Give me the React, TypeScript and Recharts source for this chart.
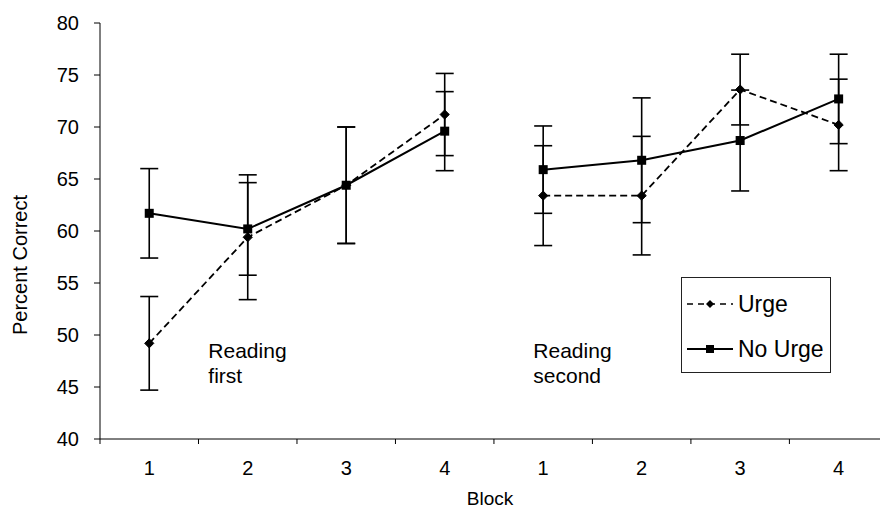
import React from 'react';
import { LineChart, Line, XAxis, YAxis, ErrorBar, Legend, ReferenceDot, Label } from 'recharts';

// ---- data ----
const blockPositions = [1, 2, 3, 4, 5, 6, 7, 8];
const blockLabels = ['1', '2', '3', '4', '1', '2', '3', '4'];
const urgeMeans = [49.2, 59.4, 64.4, 71.2, 63.4, 63.4, 73.6, 70.2];
const urgeErrors = [4.5, 6.0, 5.6, 3.95, 4.8, 5.7, 3.4, 4.4];
const noUrgeMeans = [61.7, 60.2, 64.4, 69.6, 65.9, 66.8, 68.7, 72.7];
const noUrgeErrors = [4.3, 4.45, 5.6, 3.8, 4.2, 6.0, 4.85, 4.3];
const yTicks = [40, 45, 50, 55, 60, 65, 70, 75, 80];
const seriesNames = ['Urge', 'No Urge'];
const groupLabels = [['Reading', 'first'], ['Reading', 'second']];
const groupRanges = [[0, 4], [4, 8]];

const xTickMarks = [0.5, 1.5, 2.5, 3.5, 4.5, 5.5, 6.5, 7.5];
const X_DOMAIN: [number, number] = [0.5, 8.42];
const annotationAnchors = [{ x: 1.6, y: 47.75 }, { x: 4.9, y: 47.75 }];

const FONT = '"Liberation Sans", Arial, Helvetica, sans-serif';

const build = (means: number[], errs: number[], range: number[]) =>
  blockPositions.slice(range[0], range[1]).map((x, i) => ({
    x,
    mean: means[range[0] + i],
    err: errs[range[0] + i],
  }));

const urgeGroups = groupRanges.map((r) => build(urgeMeans, urgeErrors, r));
const noUrgeGroups = groupRanges.map((r) => build(noUrgeMeans, noUrgeErrors, r));

const DiamondDot = (props: any) => {
  const { cx, cy, index } = props;
  if (cx == null || cy == null) return <g key={`d${index}`} />;
  const s = 4.6;
  return (
    <polygon
      key={`d${index}-${cx}`}
      points={`${cx},${cy - s} ${cx + s},${cy} ${cx},${cy + s} ${cx - s},${cy}`}
      fill="#000"
      stroke="#000"
    />
  );
};

const SquareDot = (props: any) => {
  const { cx, cy, index } = props;
  if (cx == null || cy == null) return <g key={`s${index}`} />;
  const s = 4.5;
  return <rect key={`s${index}-${cx}`} x={cx - s} y={cy - s} width={2 * s} height={2 * s} fill="#000" />;
};

const LegendBox = () => (
  <div
    style={{
      width: 150,
      height: 96,
      border: '1.5px solid #222',
      boxSizing: 'border-box',
      background: '#fff',
      fontFamily: FONT,
      position: 'relative',
    }}
  >
    {seriesNames.map((name, i) => (
      <div
        key={name}
        style={{
          position: 'absolute',
          left: 3,
          top: i === 0 ? 12 : 57,
          height: 28,
          display: 'flex',
          alignItems: 'center',
        }}
      >
        <svg width={50} height={28}>
          {i === 0 ? (
            <>
              <line x1={2} y1={14} x2={48} y2={14} stroke="#000" strokeWidth={1.6} strokeDasharray="6 5" />
              <polygon points="25,10 29,14 25,18 21,14" fill="#000" />
            </>
          ) : (
            <>
              <line x1={2} y1={14} x2={48} y2={14} stroke="#000" strokeWidth={2} />
              <rect x={21} y={10} width={8} height={8} fill="#000" />
            </>
          )}
        </svg>
        <span style={{ fontSize: 23, color: '#000', marginLeft: 3, lineHeight: '28px' }}>{name}</span>
      </div>
    ))}
  </div>
);

const makeAnnotation = (lines: string[]) => (props: any) => {
  const { cx, cy } = props;
  return (
    <text x={cx} y={cy} fontSize={21} fontFamily={FONT} fill="#000">
      {lines.map((l, i) => (
        <tspan key={i} x={cx} dy={i === 0 ? 0 : 25}>
          {l}
        </tspan>
      ))}
    </text>
  );
};

const YLabel = (props: any) => {
  const { viewBox } = props;
  const cx = 20;
  const cy = viewBox.y + viewBox.height / 2 + 34;
  return (
    <text
      x={cx}
      y={cy}
      transform={`rotate(-90, ${cx}, ${cy})`}
      textAnchor="middle"
      dominantBaseline="central"
      fontSize={20}
      fontFamily={FONT}
      fill="#000"
    >
      Percent Correct
    </text>
  );
};

export default function App() {
  return (
    <div style={{ position: 'absolute', left: 0, top: 0, width: 880, height: 510, background: '#fff' }}>
      <LineChart
        width={880}
        height={510}
        margin={{ top: 23, right: 0, bottom: 0, left: 0 }}
        style={{ fontFamily: FONT }}
      >
        <XAxis
          xAxisId="a_ticks"
          type="number"
          dataKey="x"
          domain={X_DOMAIN}
          ticks={xTickMarks}
          interval={0}
          tickFormatter={() => ''}
          tickSize={5}
          height={6}
          stroke="#000"
          allowDataOverflow
        />
        <XAxis
          xAxisId="b_labels"
          type="number"
          dataKey="x"
          domain={X_DOMAIN}
          ticks={blockPositions}
          interval={0}
          tickFormatter={(v: number) => blockLabels[v - 1]}
          axisLine={false}
          tickLine={false}
          tickSize={0}
          tickMargin={16}
          height={65}
          tick={{ fontSize: 20, fill: '#000', fontFamily: FONT }}
          allowDataOverflow
        >
          <Label value="Block" position="insideBottom" offset={5} fontSize={19} fill="#000" fontFamily={FONT} />
        </XAxis>
        <YAxis
          type="number"
          domain={[40, 80]}
          ticks={yTicks}
          interval={0}
          width={100}
          tickSize={6}
          tickMargin={15}
          stroke="#000"
          tick={{ fontSize: 20, fill: '#000', fontFamily: FONT }}
          allowDataOverflow
        >
          <Label content={YLabel} />
        </YAxis>
        <Legend
          layout="horizontal"
          verticalAlign="middle"
          align="center"
          content={LegendBox}
          wrapperStyle={{ position: 'absolute', left: 681, top: 277, width: 150, height: 96 }}
        />
        {urgeGroups.map((data, g) => (
          <Line
            key={`u${g}`}
            xAxisId="a_ticks"
            data={data}
            dataKey="mean"
            name={seriesNames[0]}
            type="linear"
            stroke="#000"
            strokeWidth={1.8}
            strokeDasharray="7 4"
            dot={DiamondDot}
            activeDot={false}
            legendType={g === 0 ? 'line' : 'none'}
            isAnimationActive={false}
          >
            <ErrorBar dataKey="err" direction="y" width={9} stroke="#000" strokeWidth={1.6} isAnimationActive={false} />
          </Line>
        ))}
        {noUrgeGroups.map((data, g) => (
          <Line
            key={`n${g}`}
            xAxisId="a_ticks"
            data={data}
            dataKey="mean"
            name={seriesNames[1]}
            type="linear"
            stroke="#000"
            strokeWidth={2}
            dot={SquareDot}
            activeDot={false}
            legendType={g === 0 ? 'line' : 'none'}
            isAnimationActive={false}
          >
            <ErrorBar dataKey="err" direction="y" width={9} stroke="#000" strokeWidth={1.6} isAnimationActive={false} />
          </Line>
        ))}
        {annotationAnchors.map((a, i) => (
          <ReferenceDot
            key={`a${i}`}
            xAxisId="a_ticks"
            x={a.x}
            y={a.y}
            r={0}
            shape={makeAnnotation(groupLabels[i])}
          />
        ))}
      </LineChart>
    </div>
  );
}
